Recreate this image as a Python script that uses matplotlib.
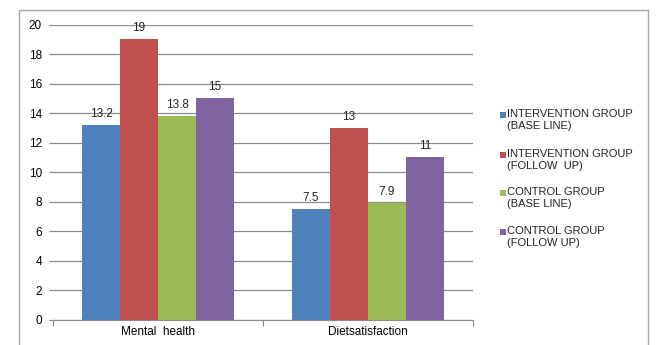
import matplotlib
matplotlib.use("Agg")
import matplotlib.pyplot as plt
from matplotlib.patches import Rectangle
import numpy as np

plt.rcParams['font.family'] = ['Liberation Sans', 'DejaVu Sans']

categories = ["Mental  health", "Dietsatisfaction"]
series_names = ["INTERVENTION GROUP\n(BASE LINE)", "INTERVENTION GROUP\n(FOLLOW  UP)",
                "CONTROL GROUP\n(BASE LINE)", "CONTROL GROUP\n(FOLLOW UP)"]
values = [[13.2, 7.5], [19, 13], [13.8, 7.9], [15, 11]]
value_labels = [["13.2", "7.5"], ["19", "13"], ["13.8", "7.9"], ["15", "11"]]
colors = ["#4F81BD", "#C0504D", "#9BBB59", "#8064A2"]
yticks = [0, 2, 4, 6, 8, 10, 12, 14, 16, 18, 20]

W, H = 658, 345
fig = plt.figure(figsize=(W/100, H/100), dpi=100)
fig.patch.set_facecolor("white")

# outer border
fig.add_artist(Rectangle((19/W, -0.05), (648-19)/W, 1.05 - 10/H,
                         transform=fig.transFigure, fill=False,
                         edgecolor="#A6A6A6", linewidth=1.0))

ax = fig.add_axes([53/W, 1-320/H, (473-53)/W, (320-24.5)/H])
x = np.arange(len(categories))
bw = 0.181
for i, (vals, col) in enumerate(zip(values, colors)):
    pos = x + (i - 1.5) * bw
    ax.bar(pos, vals, width=bw, color=col, zorder=3)
    for p, v, lab in zip(pos, vals, value_labels[i]):
        ax.text(p, v + 0.35, lab, ha="center", va="bottom", fontsize=8.5, color="#222222", zorder=4)

ax.set_xlim(-0.5, 1.5)
ax.set_ylim(0, 20)
ax.set_yticks(yticks)
ax.set_yticklabels([str(t) for t in yticks], fontsize=8.5)
ax.yaxis.grid(True, color="#8C8C8C", linewidth=0.9, zorder=0)
ax.set_axisbelow(True)
ax.tick_params(axis="y", length=3, width=0.9, color="#8C8C8C", pad=5)
ax.set_xticks([-0.5, 0.5, 1.5], minor=False)
ax.set_xticklabels([])
ax.set_xticks(x, minor=True)
ax.set_xticklabels(categories, minor=True, fontsize=8.5)
ax.tick_params(axis="x", which="major", length=4, direction="out", color="#8C8C8C")
ax.tick_params(axis="x", which="minor", length=0, pad=4)
for s in ["top", "right", "left"]:
    ax.spines[s].set_visible(False)
ax.spines["bottom"].set_color("#8C8C8C")

# legend
ys = [115, 155, 193, 232]
for name, col, yy in zip(series_names, colors, ys):
    fig.add_artist(Rectangle((500/W, 1-(yy+3)/H), 6/W, 6/H, transform=fig.transFigure,
                             facecolor=col, edgecolor="none"))
    fig.text(507/W, 1-(yy-6)/H, name, fontsize=8, va="top", ha="left",
             color="#222222", linespacing=1.25)

fig.savefig("out.png", dpi=100)
